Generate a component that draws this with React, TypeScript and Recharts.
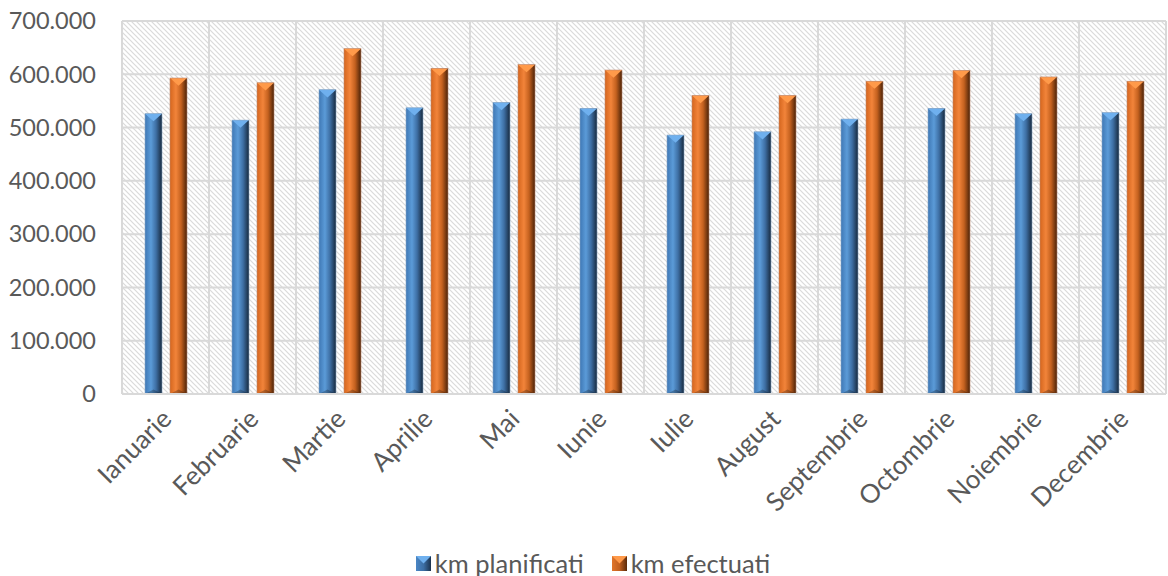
import React from "react";
import { BarChart, Bar, XAxis, YAxis, CartesianGrid, Legend } from "recharts";

const months = ["Ianuarie", "Februarie", "Martie", "Aprilie", "Mai", "Iunie", "Iulie", "August", "Septembrie", "Octombrie", "Noiembrie", "Decembrie"];
const kmPlanificati = [526000, 514000, 571000, 537000, 547000, 536000, 486000, 492000, 516000, 536000, 526000, 528000];
const kmEfectuati = [593000, 584000, 648000, 611000, 618000, 608000, 560000, 560000, 587000, 607000, 595000, 587000];
const yTicks = [0, 100000, 200000, 300000, 400000, 500000, 600000, 700000];

const data = months.map((m, i) => ({ month: m, plan: kmPlanificati[i], efect: kmEfectuati[i] }));

const FONT = "Lato, 'Open Sans', sans-serif";
const TEXT = "#595959";

const fmt = (v: number) => (v === 0 ? "0" : v.toLocaleString("de-DE"));

const makeShape = (gradId: string, topFill: string, edge: string) => (props: any) => {
  const { x, y, width, height } = props;
  if (!height || height <= 0) return null;
  const bev = Math.min(width * 0.45, height / 2);
  return (
    <g>
      <rect x={x} y={y} width={width} height={height} fill={`url(#${gradId})`} />
      <polygon points={`${x},${y} ${x + width},${y} ${x + width / 2},${y + bev}`} fill={topFill} />
      <polygon points={`${x},${y + height} ${x + width},${y + height} ${x + width / 2},${y + height - bev * 0.6}`} fill="rgba(0,0,0,0.25)" />
      <rect x={x} y={y} width={width} height={height} fill="none" stroke={edge} strokeWidth={0.6} />
    </g>
  );
};

const BlueShape = makeShape("gBlue", "#6fb0ee", "#8aa8c8");
const OrangeShape = makeShape("gOrange", "#ff9a4a", "#c08a70");

const Icon = ({ grad, top }: { grad: string; top: string }) => (
  <svg width={15} height={15} style={{ marginRight: 4 }}>
    <rect x={0} y={0} width={15} height={15} fill={`url(#${grad}L)`} />
    <polygon points="0,0 15,0 7.5,7.5" fill={top} />
    <defs>
      <linearGradient id={`${grad}L`} x1="0" y1="0" x2="1" y2="0">
        {grad === "lb" ? (
          <>
            <stop offset="0%" stopColor="#4a86c5" />
            <stop offset="50%" stopColor="#3d6fa5" />
            <stop offset="100%" stopColor="#1b324d" />
          </>
        ) : (
          <>
            <stop offset="0%" stopColor="#e0752a" />
            <stop offset="50%" stopColor="#c2601f" />
            <stop offset="100%" stopColor="#5a2a0a" />
          </>
        )}
      </linearGradient>
    </defs>
  </svg>
);

const LegendContent = () => (
  <div style={{ display: "flex", justifyContent: "center", alignItems: "center", fontFamily: FONT, fontSize: 25.5, lineHeight: "28px", height: 28, color: TEXT, paddingLeft: 18 }}>
    <div style={{ display: "flex", alignItems: "center", marginRight: 28 }}>
      <Icon grad="lb" top="#6fb0ee" />
      <span>km planificati</span>
    </div>
    <div style={{ display: "flex", alignItems: "center" }}>
      <Icon grad="lo" top="#ff9a4a" />
      <span>km efectuati</span>
    </div>
  </div>
);

const XTick = (props: any) => {
  const { x, y, payload } = props;
  return (
    <g transform={`translate(${x + 2},${y + 13})`}>
      <text x={0} y={0} dy={8} textAnchor="end" transform="rotate(-45)" fill={TEXT} fontSize={26} fontFamily={FONT}>
        {payload.value}
      </text>
    </g>
  );
};

export default function App() {
  return (
    <div style={{ position: "absolute", left: 0, top: 0, width: 1168, height: 576, background: "#fff" }}>
      <BarChart width={1168} height={576} data={data} margin={{ top: 21, right: 2, left: 0, bottom: 2 }} barGap={8} barSize={17}>
        <defs>
          <pattern id="hatch" patternUnits="userSpaceOnUse" width={5} height={5}>
            <rect width={5} height={5} fill="#ffffff" />
            <path d="M0,0 L5,5 M-1,4 L1,6 M4,-1 L6,1" stroke="#dadada" strokeWidth={1.2} />
          </pattern>
          <linearGradient id="gBlue" x1="0" y1="0" x2="1" y2="0">
            <stop offset="0%" stopColor="#3f78b5" />
            <stop offset="35%" stopColor="#5b9bd8" />
            <stop offset="65%" stopColor="#3e6fa4" />
            <stop offset="100%" stopColor="#17293d" />
          </linearGradient>
          <linearGradient id="gOrange" x1="0" y1="0" x2="1" y2="0">
            <stop offset="0%" stopColor="#d5661e" />
            <stop offset="35%" stopColor="#f2843a" />
            <stop offset="65%" stopColor="#c4611f" />
            <stop offset="100%" stopColor="#4a2208" />
          </linearGradient>
        </defs>
        <CartesianGrid
          fill="url(#hatch)"
          stroke="#d9d9d9"
          strokeWidth={2}
          verticalCoordinatesGenerator={({ offset }: any) =>
            months.map((_, i) => offset.left + (i * offset.width) / months.length).concat([offset.left + offset.width])
          }
        />
        <XAxis
          dataKey="month"
          interval={0}
          height={152}
          tickLine={false}
          axisLine={{ stroke: "#d9d9d9", strokeWidth: 2 }}
          tick={<XTick />}
        />
        <YAxis
          domain={[0, 700000]}
          ticks={yTicks}
          width={122}
          tickFormatter={fmt}
          axisLine={false}
          tickLine={false}
          tickSize={0}
          tickMargin={26}
          tick={{ fill: TEXT, fontSize: 23.5, fontFamily: FONT }}
        />
        <Legend
          verticalAlign="bottom"
          height={28}
          content={<LegendContent />}
          wrapperStyle={{ top: 549, bottom: "auto", left: 0, width: 1168 }}
        />
        <Bar dataKey="plan" name="km planificati" fill="#4a86c5" shape={<BlueShape />} isAnimationActive={false} />
        <Bar dataKey="efect" name="km efectuati" fill="#e0752a" shape={<OrangeShape />} isAnimationActive={false} />
      </BarChart>
    </div>
  );
}
